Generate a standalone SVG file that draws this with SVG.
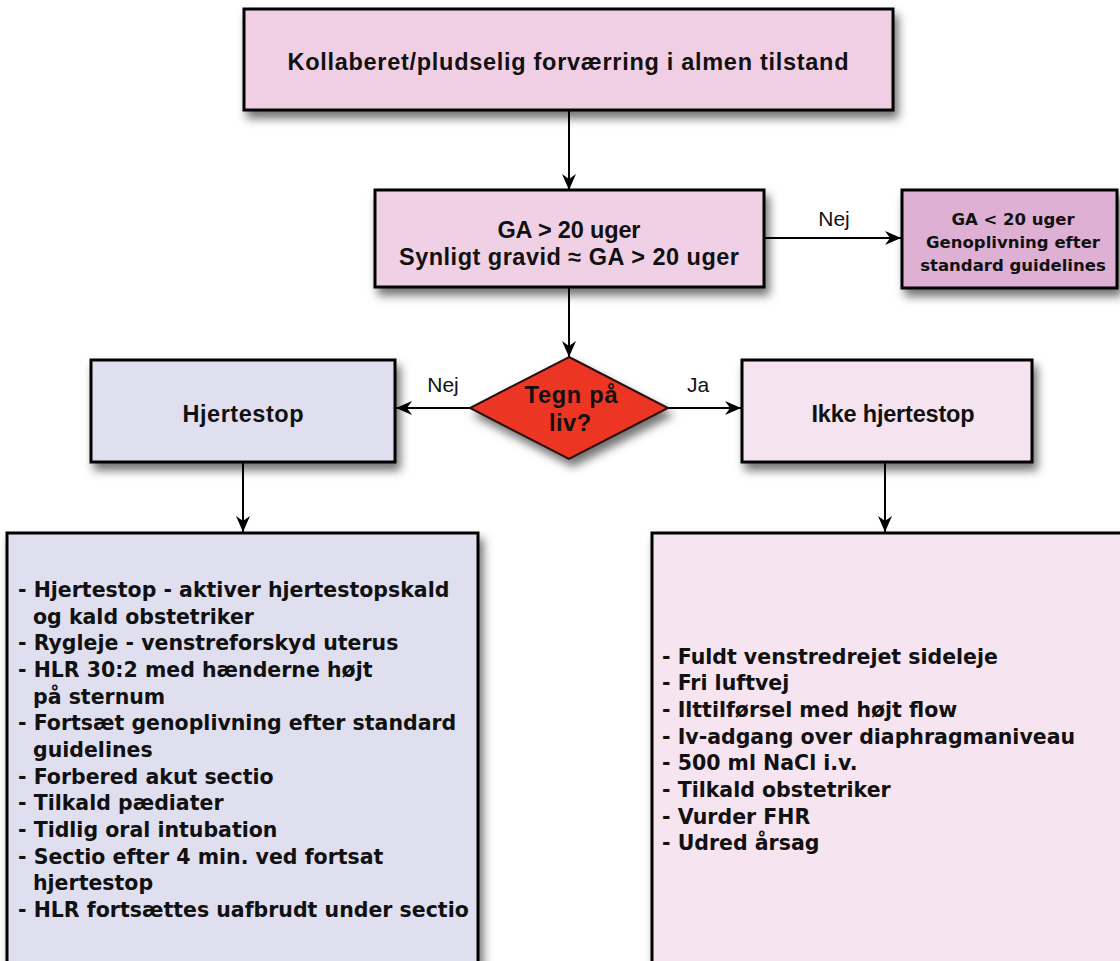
<svg xmlns="http://www.w3.org/2000/svg" width="1120" height="961" viewBox="0 0 1120 961">
<defs>
<filter id="sh" x="-10%" y="-10%" width="130%" height="140%">
<feDropShadow dx="4" dy="7" stdDeviation="5" flood-color="#000" flood-opacity="0.55"/>
</filter>
<marker id="ah" viewBox="0 0 16 14" refX="16" refY="7" markerWidth="16" markerHeight="14" markerUnits="userSpaceOnUse" orient="auto">
<path d="M0,0 L16,7 L0,14 L5,7 z" fill="#000"/>
</marker>
<style>
.box{stroke:#000;stroke-width:3}
.lbl{font-family:"Liberation Sans",Arial,sans-serif;font-weight:bold;font-size:23.5px;fill:#111;text-anchor:middle}
.yn{font-family:"Liberation Sans",Arial,sans-serif;font-size:21px;fill:#111;text-anchor:middle}
.lst{font-family:"DejaVu Sans",Verdana,sans-serif;font-weight:bold;font-size:20.5px;fill:#111}
.sm{font-family:"DejaVu Sans",Verdana,sans-serif;font-weight:bold;font-size:16.5px;fill:#111;text-anchor:middle}
.con{stroke:#000;stroke-width:2;fill:none;marker-end:url(#ah)}
</style>
</defs>
<rect width="1120" height="961" fill="#fff"/>
<g id="connectors">
<line class="con" x1="569" y1="110" x2="569" y2="190"/>
<line class="con" x1="765" y1="238" x2="901" y2="238"/>
<line class="con" x1="569" y1="288" x2="569" y2="357"/>
<line class="con" x1="470" y1="408" x2="396" y2="408"/>
<line class="con" x1="668" y1="408" x2="741" y2="408"/>
<line class="con" x1="243" y1="463" x2="243" y2="532"/>
<line class="con" x1="885" y1="463" x2="885" y2="532"/>
</g>
<g id="lbl-nej1"><text class="yn" x="834" y="226">Nej</text></g>
<g id="lbl-nej2"><text class="yn" x="443" y="392">Nej</text></g>
<g id="lbl-ja"><text class="yn" x="698" y="392">Ja</text></g>
<g id="n-top">
<rect class="box" x="244" y="9" width="649" height="101" fill="#f0cfe4" filter="url(#sh)"/>
<text class="lbl" x="568" y="70" textLength="561">Kollaberet/pludselig forværring i almen tilstand</text>
</g>
<g id="n-ga">
<rect class="box" x="375" y="190" width="389" height="97" fill="#f0d0e4" filter="url(#sh)"/>
<text class="lbl" x="569" y="238" textLength="143">GA &gt; 20 uger</text>
<text class="lbl" x="569" y="265" textLength="340">Synligt gravid ≈ GA &gt; 20 uger</text>
</g>
<g id="n-ga20">
<rect class="box" x="902" y="190" width="215" height="98" fill="#ddb0d4" filter="url(#sh)"/>
<text class="sm" x="1013" y="225">GA &lt; 20 uger</text>
<text class="sm" x="1013" y="248">Genoplivning efter</text>
<text class="sm" x="1013" y="271">standard guidelines</text>
</g>
<g id="n-diamond">
<polygon points="569,357 668,408 569,459 470,408" fill="#ec3524" stroke="#2a1010" stroke-width="2" filter="url(#sh)"/>
<text class="lbl" x="571" y="403" textLength="93">Tegn på</text>
<text class="lbl" x="570" y="431" textLength="42">liv?</text>
</g>
<g id="n-hjertestop">
<rect class="box" x="91" y="360" width="304" height="102" fill="#e0dff0" filter="url(#sh)"/>
<text class="lbl" x="243" y="422" textLength="121">Hjertestop</text>
</g>
<g id="n-ikke">
<rect class="box" x="742" y="360" width="290" height="102" fill="#f6e3f0" filter="url(#sh)"/>
<text class="lbl" x="893" y="422" textLength="163">Ikke hjertestop</text>
</g>
<g id="n-left-list">
<rect class="box" x="7" y="533" width="471" height="480" fill="#e0dff0" filter="url(#sh)"/>
<text class="lst" x="18" y="597">- Hjertestop - aktiver hjertestopskald</text>
<text class="lst" x="33" y="624">og kald obstetriker</text>
<text class="lst" x="18" y="650">- Rygleje - venstreforskyd uterus</text>
<text class="lst" x="18" y="677">- HLR 30:2 med hænderne højt</text>
<text class="lst" x="33" y="704">på sternum</text>
<text class="lst" x="18" y="730">- Fortsæt genoplivning efter standard</text>
<text class="lst" x="33" y="757">guidelines</text>
<text class="lst" x="18" y="784">- Forbered akut sectio</text>
<text class="lst" x="18" y="810">- Tilkald pædiater</text>
<text class="lst" x="18" y="837">- Tidlig oral intubation</text>
<text class="lst" x="18" y="864">- Sectio efter 4 min. ved fortsat</text>
<text class="lst" x="33" y="890">hjertestop</text>
<text class="lst" x="18" y="917">- HLR fortsættes uafbrudt under sectio</text>
</g>
<g id="n-right-list">
<rect class="box" x="652" y="533" width="480" height="480" fill="#f6e4f0" filter="url(#sh)"/>
<text class="lst" x="662" y="664">- Fuldt venstredrejet sideleje</text>
<text class="lst" x="662" y="690">- Fri luftvej</text>
<text class="lst" x="662" y="717">- Ilttilførsel med højt flow</text>
<text class="lst" x="662" y="744">- Iv-adgang over diaphragmaniveau</text>
<text class="lst" x="662" y="770">- 500 ml NaCl i.v.</text>
<text class="lst" x="662" y="797">- Tilkald obstetriker</text>
<text class="lst" x="662" y="824">- Vurder FHR</text>
<text class="lst" x="662" y="850">- Udred årsag</text>
</g>
</svg>
